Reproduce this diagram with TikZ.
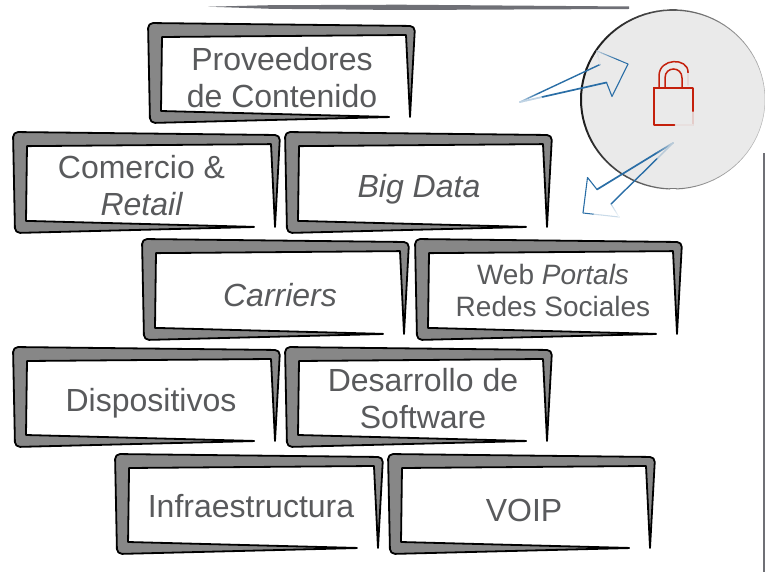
\documentclass[tikz,border=0pt]{standalone}
\usepackage{fontspec}
\setmainfont{Liberation Sans}
\usetikzlibrary{calc}
\definecolor{lblgray}{HTML}{595A5C}
\definecolor{bandgray}{HTML}{878787}
\definecolor{discfill}{HTML}{EAEAEA}
\definecolor{arrowblue}{HTML}{2A6EA6}
\definecolor{lockred}{HTML}{C4200C}
\definecolor{rulegray}{HTML}{6F7076}
\tikzset{
  band/.style={fill=bandgray,draw=black,line width=1.8pt,line join=round},
  lbl/.style={text=lblgray,inner sep=0pt,align=center,font=\fontsize{32}{37}\selectfont},
  smalllbl/.style={text=lblgray,inner sep=0pt,align=center,font=\fontsize{28}{32}\selectfont},
}
% sketchy brick: outer top-left corner, width, height
\newcommand{\brick}[4]{%
  \begin{scope}[shift={(#1,#2)}]
    \draw[band] (#3*0.5,#4*0.015)
      [rounded corners=5pt] -- (0,0) -- (2,#4)
      -- (#3*0.9139,#4*0.94) [sharp corners] -- (#3*0.0487,#4*0.88)
      -- (#3*0.0524,#4*0.14) -- (#3*0.9663,#4*0.12) -- (#3*0.9813,#4*0.94)
      [rounded corners=5pt] -- (#3,#4*0.03) [sharp corners] -- cycle;
  \end{scope}}
% stroke whose colour runs from #4 to #5 between fractions #6 and #7 of its length
\newcommand{\gradseg}[7]{%
  \draw[color=#4,line width=#3,line cap=round] (#1) -- ($(#1)!#6!(#2)$);
  \draw[color=#5,line width=#3,line cap=round] ($(#1)!#7!(#2)$) -- (#2);
  \foreach \i in {0,...,9}{
    \pgfmathsetmacro{\pp}{100-\i*100/9}
    \pgfmathsetmacro{\fa}{#6+(#7-#6)*\i/10}
    \pgfmathsetmacro{\fb}{#6+(#7-#6)*(\i+1)/10}
    \draw[color=#4!\pp!#5,line width=#3,line cap=round]
      ($(#1)!\fa!(#2)$) -- ($(#1)!\fb!(#2)$);
  }}
\begin{document}
\begin{tikzpicture}[x=1pt,y=-1pt]
\useasboundingbox (0,0) rectangle (765,572);
% rules
\fill[rulegray] (208,6.7) -- (270,5.2) -- (400,4.7) -- (629,6.5) -- (629,9) -- (400,10) -- (270,8.8) -- cycle;
\fill[rulegray] (762.5,153) -- (765,153) -- (765,572) -- (762.5,572) -- cycle;
% bricks
\brick{148}{23}{267}{100}
\brick{13}{132}{267}{101}
\brick{285}{132}{267}{101}
\brick{142}{239}{267}{101}
\brick{415}{239}{267}{101}
\brick{13}{347}{267}{100}
\brick{285}{347}{267}{100}
\brick{115}{454}{268}{100}
\brick{388}{454}{267}{100}
% labels
\node[lbl] (prov) at (282,78) {Proveedores\\de Contenido};
\node[lbl] (com) at (141.5,185.5) {Comercio \&\\\itshape Retail};
\node[lbl] (big) at (419,189) {\itshape Big Data};
\node[lbl] (car) at (280,295) {\itshape Carriers};
\node[smalllbl] (web) at (553,290) {Web \itshape Portals\\Redes Sociales};
\node[lbl] (dis) at (151,403) {Dispositivos};
\node[lbl] (des) at (423,399) {Desarrollo de\\Software};
\node[lbl] (inf) at (251,506) {Infraestructura};
\node[lbl] (voi) at (524,510) {VOIP};
% disc
\fill[discfill] (673,99.5) ellipse[x radius=92,y radius=89.5];
\foreach \a in {0,4,...,356}{
  \pgfmathsetmacro{\t}{(1-cos(\a-10))/2}
  \pgfmathsetmacro{\g}{28+62*\t}
  \pgfmathsetmacro{\w}{0.5+1.5*\t}
  \draw[color=black!\g!white,line width=\w pt,line cap=round]
    ({673+92*cos(\a)},{99.5+89.5*sin(\a)}) -- ({673+92*cos(\a+4)},{99.5+89.5*sin(\a+4)});
}
% lock
\coordinate (b1) at (654,88);
\coordinate (b2) at (693,88);
\coordinate (b3) at (693,125);
\coordinate (b4) at (654,125);
\draw[lockred,line width=1.5pt] (b4) -- (b1) -- (b2);
\gradseg{b2}{b3}{1.3pt}{lockred}{lockred!15!discfill}{0.65}{1}
\gradseg{b4}{b3}{1.5pt}{lockred}{lockred!5!discfill}{0.55}{1}
\draw[lockred,line width=1.5pt] (659,88) -- (659,76) .. controls (659,57.5) and (688,57.5) .. (688,72);
\draw[lockred,line width=1.5pt] (665,88) -- (665,78) .. controls (665,66) and (682,66) .. (682,78) -- (682,88);
\coordinate (s1) at (688,72);
\coordinate (s2) at (688,85);
\gradseg{s1}{s2}{1.3pt}{lockred}{lockred!10!discfill}{0.1}{1}
% first arrow
\coordinate (p1) at (520,102);
\coordinate (p2) at (600,64.5);
\coordinate (p3) at (597,51);
\coordinate (p4) at (628,64);
\coordinate (p5) at (612,96.5);
\coordinate (p6) at (606.5,82.5);
\gradseg{p1}{p2}{1.4pt}{arrowblue!30!white}{arrowblue}{0}{0.25}
\gradseg{p2}{p3}{1pt}{arrowblue!30!discfill}{arrowblue!10!discfill}{0}{1}
\gradseg{p3}{p4}{1pt}{arrowblue!25!discfill}{arrowblue}{0}{0.7}
\draw[arrowblue,line width=1.1pt,line join=round] (p4) -- (p5) -- (p6);
\gradseg{p6}{p1}{1.7pt}{arrowblue}{arrowblue!30!white}{0.75}{1}
% second arrow
\coordinate (q1) at (673,143);
\coordinate (q2) at (597,189.5);
\coordinate (q3) at (587.5,177.5);
\coordinate (q4) at (583,213);
\coordinate (q5) at (619,217);
\coordinate (q6) at (611,204);
\gradseg{q1}{q2}{1.7pt}{arrowblue!25!discfill}{arrowblue}{0}{0.25}
\draw[arrowblue,line width=1.1pt,line join=round] (q2) -- (q3) -- (q4);
\gradseg{q4}{q5}{1pt}{arrowblue}{arrowblue!25!white}{0.3}{1}
\gradseg{q5}{q6}{1pt}{arrowblue!15!white}{arrowblue!30!white}{0}{1}
\gradseg{q6}{q1}{1.4pt}{arrowblue}{arrowblue!25!discfill}{0.75}{1}
\end{tikzpicture}
\end{document}
